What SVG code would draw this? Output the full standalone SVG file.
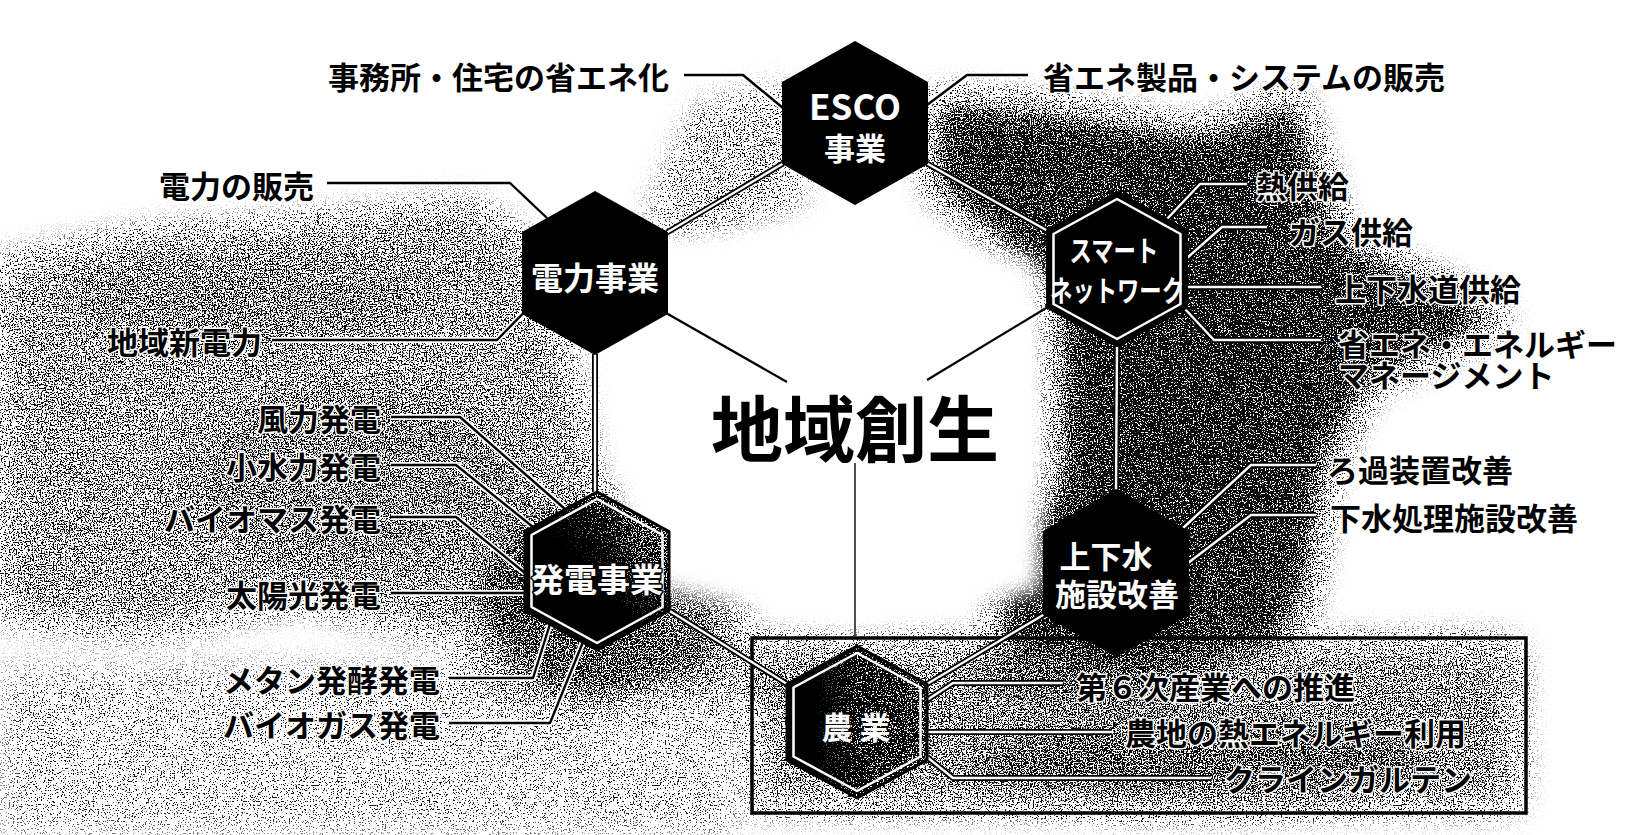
<svg xmlns="http://www.w3.org/2000/svg" xmlns:xlink="http://www.w3.org/1999/xlink" width="1630" height="835" viewBox="0 0 1630 835">
<style>
.lbl{font-family:"Noto Sans CJK JP","Noto Sans CJK SC",sans-serif;font-weight:700;font-size:31px;fill:#000;stroke:#fff;stroke-width:3;paint-order:stroke;stroke-linejoin:round;dominant-baseline:central}
.end{text-anchor:end}
.ht{font-family:"Noto Sans CJK JP","Noto Sans CJK SC",sans-serif;font-weight:700;fill:#fff;text-anchor:middle;dominant-baseline:central}
.hex{fill:#000;stroke:#000;stroke-width:2;stroke-linejoin:round}
.hexo{fill:none;stroke:#000;stroke-width:3;stroke-linejoin:round}
.inner{fill:none;stroke:#fff;stroke-width:2.5;stroke-linejoin:round}
.dblo{fill:none;stroke:#000;stroke-width:6;stroke-linejoin:round}
.dbli{fill:none;stroke:#fff;stroke-width:2.4;stroke-linejoin:round}
.halo{fill:none;stroke:#fff;stroke-width:6;stroke-linejoin:round}
.ln{fill:none;stroke:#000;stroke-width:2.4;stroke-linejoin:round}
.spoke{fill:none;stroke:#000;stroke-width:2.2}
</style>
<defs>
<filter id="dither" filterUnits="userSpaceOnUse" x="0" y="0" width="1630" height="835" color-interpolation-filters="sRGB">
<feGaussianBlur in="SourceGraphic" stdDeviation="16" result="soft"/>
<feTurbulence type="fractalNoise" baseFrequency="0.75" numOctaves="2" seed="11" result="noise"/>
<feColorMatrix in="noise" type="matrix" values="0 0 0 0 0 0 0 0 0 0 0 0 0 0 0 3.2 0 0 0 -1.1" result="na"/>
<feComposite in="soft" in2="na" operator="arithmetic" k1="0" k2="8" k3="-8" k4="0" result="d"/>
<feColorMatrix in="d" type="matrix" values="0 0 0 0 0.04 0 0 0 0 0.04 0 0 0 0 0.04 0 0 0 1 0"/>
</filter>
<filter id="grain" filterUnits="userSpaceOnUse" x="0" y="0" width="1630" height="835" color-interpolation-filters="sRGB">
<feTurbulence type="fractalNoise" baseFrequency="0.8" numOctaves="2" seed="5" result="n"/>
<feColorMatrix in="n" type="matrix" values="0 0 0 0 0 0 0 0 0 0 0 0 0 0 0 3.2 0 0 0 -1.1" result="m"/>
<feComposite in="SourceGraphic" in2="m" operator="arithmetic" k1="0" k2="8" k3="-8" k4="0" result="d"/>
<feColorMatrix in="d" type="matrix" values="0 0 0 0 0 0 0 0 0 0 0 0 0 0 0 0 0 0 1 0"/>
</filter>
<filter id="soft" x="-20%" y="-20%" width="140%" height="140%">
<feGaussianBlur stdDeviation="10"/>
</filter>
<linearGradient id="gH" x1="0" y1="1" x2="1" y2="0">
<stop offset="0" stop-color="#000" stop-opacity="1"/>
<stop offset="0.55" stop-color="#000" stop-opacity="0.97"/>
<stop offset="0.85" stop-color="#000" stop-opacity="0.7"/>
<stop offset="1" stop-color="#000" stop-opacity="0.35"/>
</linearGradient>
<linearGradient id="gHs" x1="0" y1="1" x2="1" y2="0">
<stop offset="0" stop-color="#000" stop-opacity="1"/>
<stop offset="0.45" stop-color="#000" stop-opacity="1"/>
<stop offset="0.7" stop-color="#000" stop-opacity="0"/>
</linearGradient>
<linearGradient id="gN" x1="0" y1="0" x2="1" y2="0">
<stop offset="0" stop-color="#000" stop-opacity="1"/>
<stop offset="0.35" stop-color="#000" stop-opacity="0.95"/>
<stop offset="1" stop-color="#000" stop-opacity="0.6"/>
</linearGradient>
<linearGradient id="gNs" x1="0" y1="0" x2="1" y2="0">
<stop offset="0" stop-color="#000" stop-opacity="1"/>
<stop offset="0.2" stop-color="#000" stop-opacity="1"/>
<stop offset="0.5" stop-color="#000" stop-opacity="0"/>
</linearGradient>
<path id="e1" d="M783,163.5 L667,232.5"/>
<path id="e2" d="M927,163.5 L1047,230.5"/>
<path id="e3" d="M595,354 L595,492"/>
<path id="e4" d="M1117,346 L1116,490"/>
<path id="e5" d="M669,610.5 L787,684"/>
<path id="e6" d="M1044,614.5 L927,684"/>
<path id="s1" d="M1167,219 L1200,184 H1247"/>
<path id="s2" d="M1187,258 L1222,227 H1267"/>
<path id="s3" d="M1187,287 H1321"/>
<path id="s4" d="M1185,309 L1214,340 H1321"/>
<path id="w1" d="M1183,528 L1251,465 H1316"/>
<path id="w2" d="M1188,563 L1251,515 H1316"/>
<path id="a1" d="M927,700 L953,683 H1063"/>
<path id="a2" d="M927,732 H1112"/>
<path id="a3" d="M927,757 L953,778 H1211"/>
<path id="l1" d="M684,75 H743 L783,108"/>
<path id="l2" d="M927,105 L967,75 H1028"/>
<path id="l3" d="M327,183 H510 L547,218"/>
<path id="l4" d="M272,340 H497 L523,313.5"/>
<path id="l5" d="M391,417 H460 L565,509"/>
<path id="l6" d="M391,465 H456 L533,527"/>
<path id="l7" d="M391,517 H456 L525,573"/>
<path id="l8" d="M391,593 H525"/>
<path id="l9" d="M449,678 H533 L550,624"/>
<path id="l10" d="M449,723 H550 L583,642"/>
</defs>

<g id="background">
<rect x="0" y="0" width="1630" height="835" fill="#fff"/>
<g filter="url(#dither)">
<polygon points="935,100 1060,112 1200,135 1296,100 1340,240 1505,318 1365,385 1325,470 1305,600 1280,640 1110,662 1000,640 1000,600 1062,470 1058,290 1000,240 935,185" fill="#000" fill-opacity="0.9"/>
<ellipse cx="1175" cy="330" rx="95" ry="200" fill="#000" fill-opacity="0.45"/>
<polygon points="0,265 150,235 330,222 470,205 530,245 560,330 585,440 600,560 560,615 430,630 300,600 150,630 0,615" fill="#000" fill-opacity="0.42"/>
<ellipse cx="360" cy="480" rx="170" ry="90" fill="#000" fill-opacity="0.2"/>
<ellipse cx="250" cy="300" rx="190" ry="45" fill="#000" fill-opacity="0.18"/>
<ellipse cx="610" cy="600" rx="130" ry="100" fill="#000" fill-opacity="0.55"/>
<ellipse cx="560" cy="655" rx="100" ry="55" fill="#000" fill-opacity="0.3"/>
<polygon points="630,625 760,645 795,700 700,700" fill="#000" fill-opacity="0.3"/>
<rect x="760" y="645" width="755" height="160" fill="#000" fill-opacity="0.48"/>
<ellipse cx="1200" cy="765" rx="230" ry="45" fill="#000" fill-opacity="0.3"/>
<ellipse cx="1090" cy="668" rx="130" ry="35" fill="#000" fill-opacity="0.3"/>
<polygon points="700,110 790,90 800,200 700,235 650,220" fill="#000" fill-opacity="0.25"/>
<rect x="0" y="665" width="740" height="170" fill="#000" fill-opacity="0.12"/>
</g>
<polygon points="620,250 855,215 1035,265 1040,590 855,630 620,580" fill="#fff" filter="url(#soft)"/>
<rect id="frame" x="752" y="638" width="774" height="175" fill="none" stroke="#000" stroke-width="3.5"/>
</g>

<g id="connectors">
<use xlink:href="#e1" class="dblo"/><use xlink:href="#e1" class="dbli"/>
<use xlink:href="#e2" class="dblo"/><use xlink:href="#e2" class="dbli"/>
<use xlink:href="#e3" class="dblo"/><use xlink:href="#e3" class="dbli"/>
<use xlink:href="#e4" class="dblo"/><use xlink:href="#e4" class="dbli"/>
<use xlink:href="#e5" class="dblo"/><use xlink:href="#e5" class="dbli"/>
<use xlink:href="#e6" class="dblo"/><use xlink:href="#e6" class="dbli"/>
<path class="spoke" d="M667,313.5 L787,382"/>
<path class="spoke" d="M1047,307.5 L927,380"/>
<path d="M855,463 L855,637" fill="none" stroke="#222" stroke-width="1.6"/>
<use xlink:href="#s1" class="dblo"/><use xlink:href="#s1" class="dbli"/>
<use xlink:href="#s2" class="dblo"/><use xlink:href="#s2" class="dbli"/>
<use xlink:href="#s3" class="dblo"/><use xlink:href="#s3" class="dbli"/>
<use xlink:href="#s4" class="dblo"/><use xlink:href="#s4" class="dbli"/>
<use xlink:href="#w1" class="dblo"/><use xlink:href="#w1" class="dbli"/>
<use xlink:href="#w2" class="dblo"/><use xlink:href="#w2" class="dbli"/>
<use xlink:href="#a1" class="dblo"/><use xlink:href="#a1" class="dbli"/>
<use xlink:href="#a2" class="dblo"/><use xlink:href="#a2" class="dbli"/>
<use xlink:href="#a3" class="dblo"/><use xlink:href="#a3" class="dbli"/>
<use xlink:href="#l1" class="halo"/><use xlink:href="#l1" class="ln"/>
<use xlink:href="#l2" class="halo"/><use xlink:href="#l2" class="ln"/>
<use xlink:href="#l3" class="halo"/><use xlink:href="#l3" class="ln"/>
<use xlink:href="#l4" class="halo"/><use xlink:href="#l4" class="ln"/>
<use xlink:href="#l5" class="halo"/><use xlink:href="#l5" class="ln"/>
<use xlink:href="#l6" class="halo"/><use xlink:href="#l6" class="ln"/>
<use xlink:href="#l7" class="halo"/><use xlink:href="#l7" class="ln"/>
<use xlink:href="#l8" class="halo"/><use xlink:href="#l8" class="ln"/>
<use xlink:href="#l9" class="halo"/><use xlink:href="#l9" class="ln"/>
<use xlink:href="#l10" class="halo"/><use xlink:href="#l10" class="ln"/>
</g>

<g id="node-center">
<text x="855" y="424" font-family="'Noto Sans CJK JP','Noto Sans CJK SC',sans-serif" font-weight="700" font-size="72" text-anchor="middle" dominant-baseline="central" fill="#000">地域創生</text>
</g>

<g id="node-esco">
<polygon class="hex" points="855,42 927,82.5 927,163.5 855,204 783,163.5 783,82.5"/>
<text class="ht"><tspan x="855" y="104" font-size="35">ESCO</tspan><tspan x="855" y="146" font-size="31">事業</tspan></text>
</g>

<g id="node-denryoku">
<polygon class="hex" points="595,192 667,232.5 667,313.5 595,354 523,313.5 523,232.5"/>
<text class="ht" x="595" y="276" font-size="32">電力事業</text>
</g>

<g id="node-smart">
<polygon class="hex" points="1117,192 1187,230.5 1187,307.5 1117,346 1047,307.5 1047,230.5"/>
<polygon class="inner" points="1117,199 1180.5,234 1180.5,304 1117,339 1053.5,304 1053.5,234"/>
<text class="ht" font-size="29" transform="translate(1117,0) scale(0.77,1)"><tspan x="-4" y="249">スマート</tspan><tspan x="0" y="289">ネットワーク</tspan></text>
</g>

<g id="node-hatsuden">
<polygon points="597,492 669,531.5 669,610.5 597,650 525,610.5 525,531.5" fill="url(#gH)" filter="url(#grain)"/>
<polygon points="597,492 669,531.5 669,610.5 597,650 525,610.5 525,531.5" fill="url(#gHs)"/>
<polygon class="hexo" points="597,492 669,531.5 669,610.5 597,650 525,610.5 525,531.5"/>
<polygon class="inner" points="597,499 662.5,535 662.5,607 597,643 531.5,607 531.5,535"/>
<text class="ht" x="597" y="578" font-size="33" stroke="#000" stroke-width="3" paint-order="stroke" stroke-linejoin="round">発電事業</text>
</g>

<g id="node-gesui">
<polygon class="hex" points="1116,490 1188,531.5 1188,614.5 1116,656 1044,614.5 1044,531.5"/>
<text class="ht" font-size="31"><tspan x="1106" y="554">上下水</tspan><tspan x="1117" y="592">施設改善</tspan></text>
</g>

<g id="node-nougyou">
<polygon points="857,646 927,684 927,760 857,798 787,760 787,684" fill="url(#gN)" filter="url(#grain)"/>
<polygon points="857,646 927,684 927,760 857,798 787,760 787,684" fill="url(#gNs)"/>
<polygon class="hexo" points="857,646 927,684 927,760 857,798 787,760 787,684"/>
<polygon class="inner" points="857,653 920.5,687.5 920.5,756.5 857,791 793.5,756.5 793.5,687.5"/>
<text class="ht" x="856" y="725" font-size="31">農 業</text>
</g>

<g id="labels">
<g id="lbl-esco-l"><text class="lbl end" x="669" y="75">事務所・住宅の省エネ化</text></g>
<g id="lbl-esco-r"><text class="lbl" x="1043" y="75">省エネ製品・システムの販売</text></g>
<g id="lbl-den-1"><text class="lbl end" x="314" y="184">電力の販売</text></g>
<g id="lbl-den-2"><text class="lbl end" x="262" y="340">地域新電力</text></g>
<g id="lbl-hat-1"><text class="lbl end" x="381" y="417">風力発電</text></g>
<g id="lbl-hat-2"><text class="lbl end" x="381" y="465">小水力発電</text></g>
<g id="lbl-hat-3"><text class="lbl end" x="381" y="517">バイオマス発電</text></g>
<g id="lbl-hat-4"><text class="lbl end" x="381" y="593">太陽光発電</text></g>
<g id="lbl-hat-5"><text class="lbl end" x="440" y="678">メタン発酵発電</text></g>
<g id="lbl-hat-6"><text class="lbl end" x="440" y="723">バイオガス発電</text></g>
<g id="lbl-sm-1"><text class="lbl" x="1256" y="184">熱供給</text></g>
<g id="lbl-sm-2"><text class="lbl" x="1289" y="230">ガス供給</text></g>
<g id="lbl-sm-3"><text class="lbl" x="1335" y="287">上下水道供給</text></g>
<g id="lbl-sm-4"><text class="lbl" font-size="30"><tspan x="1338" y="342">省エネ・エネルギー</tspan><tspan x="1338" y="373">マネージメント</tspan></text></g>
<g id="lbl-ge-1"><text class="lbl" x="1327" y="468">ろ過装置改善</text></g>
<g id="lbl-ge-2"><text class="lbl" x="1330" y="516">下水処理施設改善</text></g>
<g id="lbl-no-1"><text class="lbl" x="1076" y="685">第６次産業への推進</text></g>
<g id="lbl-no-2"><text class="lbl" x="1125" y="731">農地の熱エネルギー利用</text></g>
<g id="lbl-no-3"><text class="lbl" x="1224" y="777">クラインガルテン</text></g>
</g>
</svg>
